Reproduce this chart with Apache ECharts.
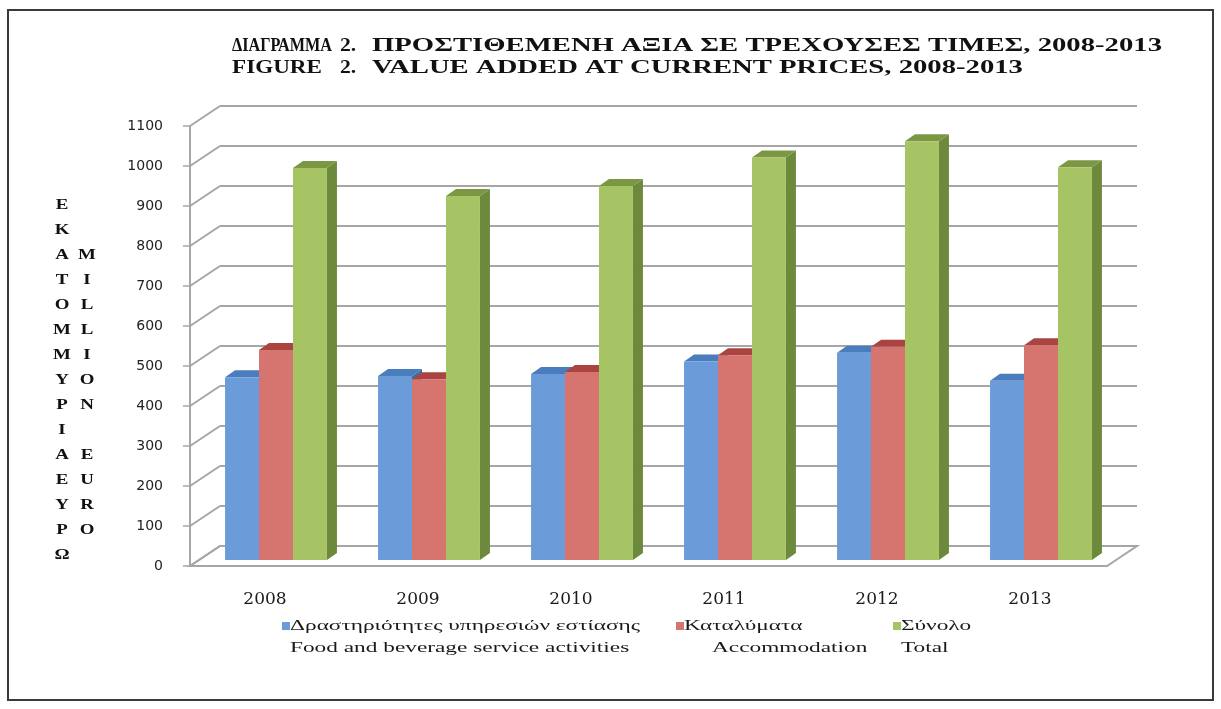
<!DOCTYPE html>
<html>
<head>
<meta charset="utf-8">
<script src="https://cdn.jsdelivr.net/npm/echarts@6/dist/echarts.min.js"></script>
<style>
  html, body { margin: 0; padding: 0; background: #fff; }
  #chart { width: 1221px; height: 709px; }
</style>
</head>
<body>
<div id="chart"></div>
<script>
const years = ['2008', '2009', '2010', '2011', '2012', '2013'];
const foodBeverage = [457, 460, 465, 496, 518, 448];
const accommodation = [525, 452, 470, 512, 533, 537];
const total = [980, 910, 935, 1006, 1047, 982];
const yTicks = [0, 100, 200, 300, 400, 500, 600, 700, 800, 900, 1000, 1100];

const seriesNames = ['Δραστηριότητες υπηρεσιών εστίασης', 'Καταλύματα', 'Σύνολο'];
const seriesNamesEn = ['Food and beverage service activities', 'Accommodation', 'Total'];
const titleGr = ['ΔΙΑΓΡΑΜΜΑ', '2.', 'ΠΡΟΣΤΙΘΕΜΕΝΗ ΑΞΙΑ ΣΕ ΤΡΕΧΟΥΣΕΣ ΤΙΜΕΣ, 2008-2013'];
const titleEn = ['FIGURE', '2.', 'VALUE ADDED AT CURRENT PRICES, 2008-2013'];
const axisNameGr = ['Ε', 'Κ', 'Α', 'Τ', 'Ο', 'Μ', 'Μ', 'Υ', 'Ρ', 'Ι', 'Α', 'Ε', 'Υ', 'Ρ', 'Ω'];
const axisNameEn = ['M', 'I', 'L', 'L', 'I', 'O', 'N', ' ', 'E', 'U', 'R', 'O'];

// face colours: front, top, side
const palette = [
  ['#6b9bd9', '#4a7dbd', '#3f6ea8'],
  ['#d6746f', '#a94441', '#9a3d3a'],
  ['#a7c465', '#7b9744', '#6d8a3c']
];

const DX = 30, DY = 20;      // depth offset of the floor / wall
const BX = 10, BY = 7;       // depth offset of the bars

const ctx = document.createElement('canvas').getContext('2d');
function textWidth(t, font) {
  ctx.font = font;
  return ctx.measureText(t).width;
}

const titleFont = 'bold 18px "Liberation Serif"';
const titleScale = 790 / textWidth(titleGr[2], titleFont);
const legendFont = '15px "Liberation Serif"';
const legendScale = 350 / textWidth(seriesNames[0], legendFont);
const nameFont = 'bold 14px "Liberation Serif"';

const chart = echarts.init(document.getElementById('chart'));

function barSeries(idx, values) {
  return {
    name: seriesNames[idx],
    type: 'custom',
    xAxisIndex: 2,
    yAxisIndex: 2,
    silent: true,
    itemStyle: { color: palette[idx][0] },
    data: values.map((v, i) => [i, v]),
    encode: { x: 0, y: 1 },
    renderItem: function (params, api) {
      const base = api.coord([api.value(0), 0]);
      const top = api.coord([api.value(0), api.value(1)]);
      const bw = api.size([1, 0])[0] * 0.222;
      const x0 = base[0] - 1.5 * bw + idx * bw;
      const x1 = x0 + bw;
      const ty = top[1], by = base[1];
      const c = palette[idx];
      return {
        type: 'group',
        children: [
          {
            type: 'polygon',
            shape: { points: [[x1, ty], [x1 + BX, ty - BY], [x1 + BX, by - BY], [x1, by]] },
            style: { fill: c[2] }
          },
          {
            type: 'polygon',
            shape: { points: [[x0, ty], [x0 + BX, ty - BY], [x1 + BX, ty - BY], [x1, ty]] },
            style: { fill: c[1] }
          },
          {
            type: 'rect',
            shape: { x: x0, y: ty, width: bw, height: by - ty },
            style: { fill: c[0] }
          }
        ]
      };
    }
  };
}

const graphics = [
  {
    type: 'rect',
    shape: { x: 8, y: 10, width: 1205, height: 690 },
    style: { fill: 'none', stroke: '#3a3a3a', lineWidth: 2 },
    silent: true
  }
];

// title, two lines: label, number, text (label widths fitted separately)
[[titleGr, 46, 100], [titleEn, 68, 90]].forEach(([parts, y, labelW]) => {
  graphics.push({
    type: 'text', x: 232, y: y, scaleX: labelW / textWidth(parts[0], titleFont), silent: true,
    style: { text: parts[0], font: titleFont, fill: '#111', verticalAlign: 'middle' }
  });
  graphics.push({
    type: 'text', x: 340, y: y, scaleX: 1.2, silent: true,
    style: { text: parts[1], font: titleFont, fill: '#111', verticalAlign: 'middle' }
  });
  graphics.push({
    type: 'text', x: 372, y: y, scaleX: titleScale, silent: true,
    style: { text: parts[2], font: titleFont, fill: '#111', verticalAlign: 'middle' }
  });
});

// vertical axis name, two columns of letters
graphics.push({
  type: 'text', x: 62, y: 193, scaleX: 1.35, silent: true,
  style: { text: axisNameGr.join('\n'), font: nameFont, lineHeight: 25, fill: '#111', align: 'center', verticalAlign: 'top' }
});
graphics.push({
  type: 'text', x: 87, y: 243, scaleX: 1.35, silent: true,
  style: { text: axisNameEn.join('\n'), font: nameFont, lineHeight: 25, fill: '#111', align: 'center', verticalAlign: 'top' }
});

// legend
[[282, 290, 290], [676, 684, 712], [893, 901, 901]].forEach(([sx, tx, tx2], k) => {
  graphics.push({
    type: 'rect', shape: { x: sx, y: 622, width: 8, height: 8 },
    style: { fill: palette[k][0] }, silent: true
  });
  graphics.push({
    type: 'text', x: tx, y: 626, scaleX: legendScale, silent: true,
    style: { text: seriesNames[k], font: legendFont, fill: '#1a1a1a', verticalAlign: 'middle' }
  });
  graphics.push({
    type: 'text', x: tx2, y: 648, scaleX: legendScale, silent: true,
    style: { text: seriesNamesEn[k], font: legendFont, fill: '#1a1a1a', verticalAlign: 'middle' }
  });
});

const gridColor = '#a6a6a6';

const option = {
  animation: false,
  backgroundColor: '#ffffff',
  grid: [
    { left: 220, right: 84, top: 106, bottom: 163 },   // back wall
    { left: 190, right: 113, top: 126, bottom: 143 },  // front axis
    { left: 199.5, right: 103.5, top: 120, bottom: 149 } // bars
  ],
  xAxis: [
    { gridIndex: 0, type: 'value', min: 0, max: 1, show: false },
    { gridIndex: 1, type: 'value', min: 0, max: 1, show: false },
    {
      gridIndex: 2,
      type: 'category',
      data: years,
      axisLine: { show: false },
      axisTick: { show: false },
      axisLabel: {
        margin: 31,
        padding: [0, 22, 0, 0],
        color: '#1a1a1a',
        fontFamily: 'DejaVu Serif',
        fontSize: 17
      }
    }
  ],
  yAxis: [
    {
      gridIndex: 0, type: 'value', min: 0, max: 1100, interval: 100,
      axisLine: { show: false }, axisTick: { show: false }, axisLabel: { show: false },
      splitLine: { show: true, lineStyle: { color: gridColor, width: 2 } }
    },
    {
      gridIndex: 1, type: 'value', min: 0, max: 1100, interval: 100,
      axisLine: { show: true, lineStyle: { color: gridColor, width: 2 } },
      axisTick: { show: true, length: 7, lineStyle: { color: gridColor, width: 1.5 } },
      axisLabel: {
        margin: 27, color: '#222', fontFamily: 'DejaVu Sans', fontSize: 14,
        formatter: v => String(v)
      },
      splitLine: { show: false }
    },
    { gridIndex: 2, type: 'value', min: 0, max: 1100, show: false }
  ],
  graphic: graphics,
  series: [
    {
      type: 'custom',
      xAxisIndex: 0,
      yAxisIndex: 0,
      silent: true,
      data: yTicks.map(v => [0, v]),
      encode: { x: 0, y: 1 },
      renderItem: function (params, api) {
        const p = api.coord([0, api.value(1)]);
        const children = [];
        if (api.value(1) === 0) {
          const r = api.coord([1, 0]);
          children.push({
            type: 'polygon',
            shape: { points: [[p[0] - DX, p[1] + DY], p, r, [r[0] - DX, r[1] + DY]] },
            style: { fill: '#ffffff', stroke: gridColor, lineWidth: 2 }
          });
        }
        children.push({
          type: 'line',
          shape: { x1: p[0] - DX, y1: p[1] + DY, x2: p[0], y2: p[1] },
          style: { stroke: gridColor, lineWidth: 2 }
        });
        return { type: 'group', children: children };
      }
    },
    barSeries(0, foodBeverage),
    barSeries(1, accommodation),
    barSeries(2, total)
  ]
};

chart.setOption(option);
</script>
</body>
</html>
